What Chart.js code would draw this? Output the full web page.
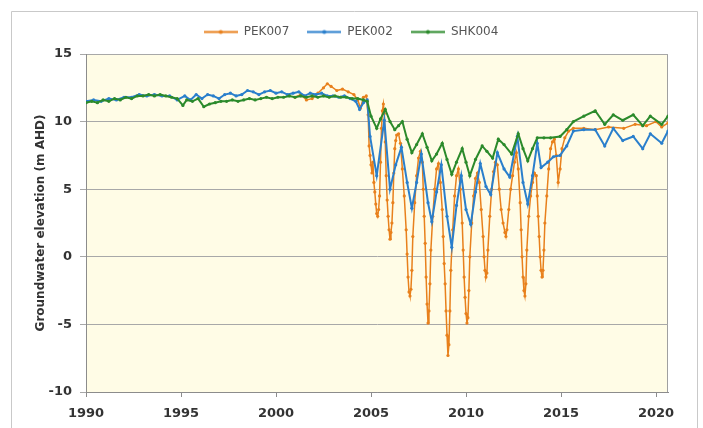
<!DOCTYPE html>
<html>
<head>
<meta charset="utf-8">
<script src="https://cdn.jsdelivr.net/npm/chart.js@4/dist/chart.umd.min.js"></script>
<style>
  html, body { margin: 0; padding: 0; background: #ffffff; }
  canvas { display: block; }
</style>
</head>
<body>
<canvas id="grafico" width="703" height="428"></canvas>
<script>
// nombres de las series y ticks
const nombres = ['PEK007', 'PEK002', 'SHK004'];
const ticksX = [1990, 1995, 2000, 2005, 2010, 2015, 2020];
const ticksY = [-10, -5, 0, 5, 10, 15];

// [año, elevación m AHD]
const pek007 = [
  [2001.0, 11.8], [2001.3, 12.0], [2001.6, 11.6], [2001.9, 11.7], [2002.2, 12.1], [2002.5, 12.5],
  [2002.7, 12.8], [2002.9, 12.6], [2003.2, 12.3], [2003.5, 12.4], [2003.8, 12.2], [2004.1, 12.0],
  [2004.3, 11.6], [2004.45, 11.0], [2004.6, 11.8], [2004.75, 11.9],
  [2004.85, 10.5], [2004.9, 8.2], [2004.95, 7.5], [2005.0, 6.8], [2005.05, 6.2], [2005.1, 7.0],
  [2005.15, 5.5], [2005.2, 4.8], [2005.25, 3.9], [2005.3, 3.2], [2005.35, 3.0], [2005.4, 3.5],
  [2005.45, 4.5], [2005.5, 7.0], [2005.55, 9.5], [2005.6, 10.8], [2005.65, 11.3], [2005.7, 10.6],
  [2005.75, 8.5], [2005.8, 6.0], [2005.85, 4.2], [2005.9, 3.0], [2005.95, 2.0], [2006.0, 1.3],
  [2006.05, 1.8], [2006.1, 2.5], [2006.15, 4.0], [2006.2, 6.2], [2006.25, 8.0], [2006.3, 8.6],
  [2006.35, 9.0], [2006.45, 9.1], [2006.55, 8.4], [2006.65, 6.5], [2006.75, 4.5], [2006.85, 2.0],
  [2006.9, 0.2], [2006.95, -1.5], [2007.0, -2.6], [2007.05, -2.9], [2007.1, -2.4], [2007.15, -1.0],
  [2007.2, 1.5], [2007.3, 4.0], [2007.4, 6.0], [2007.5, 7.3], [2007.6, 7.8], [2007.7, 7.0],
  [2007.75, 5.0], [2007.8, 3.0], [2007.85, 1.0], [2007.9, -1.5], [2007.95, -3.5], [2008.0, -4.9],
  [2008.05, -4.0], [2008.1, -2.0], [2008.15, 0.5], [2008.25, 3.0], [2008.35, 5.0], [2008.45, 6.5],
  [2008.55, 6.9], [2008.65, 5.5], [2008.75, 3.5], [2008.8, 1.5], [2008.85, -0.5], [2008.9, -2.0],
  [2008.95, -4.0], [2009.0, -5.8], [2009.05, -7.3], [2009.1, -6.5], [2009.15, -4.0], [2009.2, -1.0],
  [2009.3, 2.0], [2009.4, 4.5], [2009.5, 6.0], [2009.6, 6.5], [2009.7, 5.0], [2009.8, 2.5],
  [2009.85, 0.5], [2009.9, -1.5], [2009.95, -3.0], [2010.0, -4.2], [2010.05, -4.9], [2010.1, -4.5],
  [2010.15, -2.5], [2010.2, 0.0], [2010.3, 2.5], [2010.4, 4.5], [2010.5, 5.8], [2010.6, 6.2],
  [2010.7, 5.5], [2010.8, 3.5], [2010.9, 1.5], [2010.95, 0.0], [2011.0, -1.0], [2011.05, -1.5],
  [2011.1, -1.2], [2011.15, 0.5], [2011.25, 3.0], [2011.35, 5.0], [2011.45, 6.3], [2011.55, 7.0],
  [2011.65, 6.8], [2011.75, 5.0], [2011.85, 3.5], [2011.95, 2.5], [2012.05, 1.8], [2012.1, 1.5],
  [2012.15, 2.0], [2012.25, 3.5], [2012.35, 5.0], [2012.45, 6.0], [2012.55, 7.0], [2012.65, 7.7],
  [2012.75, 6.5], [2012.85, 4.0], [2012.9, 2.0], [2012.95, 0.0], [2013.0, -1.5], [2013.05, -2.5],
  [2013.1, -2.9], [2013.15, -2.0], [2013.2, 0.5], [2013.3, 3.0], [2013.4, 4.5], [2013.5, 5.5],
  [2013.6, 6.2], [2013.7, 6.0], [2013.75, 4.5], [2013.8, 3.0], [2013.85, 1.5], [2013.9, 0.0],
  [2013.95, -1.0], [2014.0, -1.5], [2014.05, -1.0], [2014.1, 0.5], [2014.15, 2.5], [2014.25, 4.5],
  [2014.35, 6.5], [2014.45, 8.0], [2014.55, 8.5], [2014.65, 8.7], [2014.75, 7.5], [2014.85, 5.5],
  [2014.95, 6.5], [2015.05, 8.0], [2015.2, 8.8], [2015.4, 9.3], [2015.65, 9.5], [2016.2, 9.5],
  [2016.8, 9.4], [2017.5, 9.6], [2018.3, 9.5], [2018.9, 9.8], [2019.5, 9.7], [2020.0, 10.0],
  [2020.3, 9.6], [2020.63, 9.9]
];

const pek002 = [
  [1990.0, 11.5], [1990.4, 11.6], [1990.8, 11.5], [1991.2, 11.7], [1991.6, 11.6], [1992.0, 11.8],
  [1992.4, 11.8], [1992.8, 12.0], [1993.2, 11.9], [1993.6, 12.0], [1994.0, 11.9], [1994.4, 11.9],
  [1994.8, 11.6], [1995.2, 11.9], [1995.5, 11.6], [1995.8, 12.0], [1996.1, 11.7], [1996.4, 12.0],
  [1996.7, 11.9], [1997.0, 11.7], [1997.3, 12.0], [1997.6, 12.1], [1997.9, 11.9], [1998.2, 12.0],
  [1998.5, 12.3], [1998.8, 12.2], [1999.1, 12.0], [1999.4, 12.2], [1999.7, 12.3], [2000.0, 12.1],
  [2000.3, 12.2], [2000.6, 12.0], [2000.9, 12.1], [2001.2, 12.2], [2001.5, 11.9], [2001.8, 12.1],
  [2002.1, 12.0], [2002.4, 12.1], [2002.7, 11.9], [2003.0, 11.9], [2003.3, 11.8], [2003.6, 11.9],
  [2003.9, 11.7], [2004.2, 11.5], [2004.4, 10.9], [2004.6, 11.4], [2004.8, 11.6],
  [2004.95, 8.9], [2005.3, 6.0], [2005.7, 10.1], [2006.0, 5.0], [2006.3, 6.8], [2006.6, 8.1],
  [2006.9, 5.5], [2007.15, 3.6], [2007.4, 5.5], [2007.65, 7.6], [2008.0, 4.0], [2008.2, 2.6],
  [2008.45, 4.8], [2008.7, 6.8], [2009.0, 3.0], [2009.25, 0.7], [2009.5, 3.8], [2009.75, 6.0],
  [2010.0, 3.5], [2010.25, 2.4], [2010.5, 4.8], [2010.75, 6.9], [2011.05, 5.2], [2011.3, 4.6],
  [2011.65, 7.7], [2012.0, 6.5], [2012.3, 5.9], [2012.7, 8.9], [2013.0, 5.5], [2013.25, 3.9],
  [2013.5, 6.0], [2013.75, 8.4], [2013.95, 6.6], [2014.3, 7.0], [2014.6, 7.4], [2014.95, 7.5],
  [2015.3, 8.2], [2015.65, 9.3], [2016.2, 9.4], [2016.8, 9.4], [2017.3, 8.2], [2017.75, 9.5],
  [2018.25, 8.6], [2018.8, 8.9], [2019.3, 8.0], [2019.7, 9.1], [2020.3, 8.4], [2020.63, 9.3]
];

const shk004 = [
  [1990.0, 11.4], [1990.3, 11.5], [1990.6, 11.4], [1990.9, 11.6], [1991.2, 11.5], [1991.5, 11.7],
  [1991.8, 11.6], [1992.1, 11.8], [1992.4, 11.7], [1992.7, 11.9], [1993.0, 11.9], [1993.3, 12.0],
  [1993.6, 11.9], [1993.9, 12.0], [1994.2, 11.9], [1994.5, 11.8], [1994.8, 11.7], [1995.1, 11.2],
  [1995.3, 11.6], [1995.6, 11.5], [1995.9, 11.7], [1996.2, 11.1], [1996.5, 11.3], [1996.8, 11.4],
  [1997.1, 11.5], [1997.4, 11.5], [1997.7, 11.6], [1998.0, 11.5], [1998.3, 11.6], [1998.6, 11.7],
  [1998.9, 11.6], [1999.2, 11.7], [1999.5, 11.8], [1999.8, 11.7], [2000.1, 11.8], [2000.4, 11.8],
  [2000.7, 11.9], [2001.0, 11.8], [2001.3, 11.9], [2001.6, 11.8], [2001.9, 11.9], [2002.2, 11.8],
  [2002.5, 11.9], [2002.8, 11.8], [2003.1, 11.9], [2003.4, 11.8], [2003.7, 11.8], [2004.0, 11.7],
  [2004.3, 11.7], [2004.6, 11.6], [2004.8, 11.5],
  [2005.0, 10.4], [2005.3, 9.5], [2005.5, 10.2], [2005.75, 10.9], [2006.0, 10.0], [2006.25, 9.4],
  [2006.45, 9.7], [2006.65, 10.0], [2006.9, 8.7], [2007.15, 7.7], [2007.4, 8.3], [2007.7, 9.1],
  [2007.95, 8.1], [2008.2, 7.1], [2008.45, 7.6], [2008.75, 8.4], [2009.0, 7.2], [2009.25, 6.1],
  [2009.5, 7.0], [2009.8, 8.0], [2010.0, 7.0], [2010.2, 6.0], [2010.5, 7.2], [2010.85, 8.2],
  [2011.1, 7.8], [2011.4, 7.3], [2011.7, 8.7], [2012.0, 8.3], [2012.4, 7.6], [2012.75, 9.1],
  [2013.0, 8.0], [2013.25, 7.1], [2013.5, 8.0], [2013.75, 8.8], [2014.1, 8.8], [2014.45, 8.8],
  [2014.95, 8.9], [2015.3, 9.4], [2015.65, 10.0], [2016.2, 10.4], [2016.8, 10.8], [2017.3, 9.8],
  [2017.75, 10.5], [2018.25, 10.1], [2018.8, 10.5], [2019.3, 9.7], [2019.7, 10.4], [2020.3, 9.8],
  [2020.63, 10.4]
];

const colores = { PEK007: '#e8801c', PEK002: '#2a7fcc', SHK004: '#2b8a2b' };
const fuente = 'DejaVu Sans, Verdana, sans-serif';

function iconoLeyenda(color) {
  const c = document.createElement('canvas');
  c.width = 34;
  c.height = 7;
  const g = c.getContext('2d');
  g.strokeStyle = color;
  g.lineWidth = 2;
  g.beginPath();
  g.moveTo(0, 3.5);
  g.lineTo(34, 3.5);
  g.stroke();
  g.fillStyle = color;
  g.beginPath();
  g.arc(17, 3.5, 2, 0, Math.PI * 2);
  g.fill();
  return c;
}

function serie(nombre, datos, ancho) {
  return {
    label: nombre,
    data: datos.map(p => ({ x: p[0], y: p[1] })),
    borderColor: colores[nombre],
    backgroundColor: colores[nombre],
    borderWidth: ancho,
    pointRadius: 1.6,
    pointBorderWidth: 0,
    pointHoverRadius: 2,
    tension: 0
  };
}

// fondo crema del área y marco gris exterior
const fondo = {
  id: 'fondo',
  beforeDraw(chart) {
    const { ctx, chartArea: a } = chart;
    ctx.save();
    ctx.fillStyle = '#ffffff';
    ctx.fillRect(0, 0, chart.width, chart.height);
    ctx.strokeStyle = '#c9c9c9';
    ctx.lineWidth = 1;
    ctx.beginPath();
    ctx.moveTo(11.5, 428);
    ctx.lineTo(11.5, 11.5);
    ctx.lineTo(697.5, 11.5);
    ctx.lineTo(697.5, 428);
    ctx.stroke();
    ctx.fillStyle = '#fffce6';
    ctx.fillRect(a.left, a.top, a.right - a.left, a.bottom - a.top);
    ctx.strokeStyle = '#a0a0a0';
    ctx.strokeRect(a.left + 0.5, a.top + 0.5, a.right - a.left - 1, a.bottom - a.top);
    ctx.restore();
  }
};

const ctx = document.getElementById('grafico').getContext('2d');
new Chart(ctx, {
  type: 'line',
  data: {
    // el primero se dibuja encima; la leyenda va invertida
    datasets: [
      serie('SHK004', shk004, 2),
      serie('PEK002', pek002, 2),
      serie('PEK007', pek007, 1.5)
    ]
  },
  plugins: [fondo],
  options: {
    responsive: false,
    animation: false,
    devicePixelRatio: 1,
    layout: { padding: { left: 34, right: 35, top: 8, bottom: 0 } },
    plugins: {
      tooltip: { enabled: false },
      legend: {
        position: 'top',
        reverse: true,
        labels: {
          usePointStyle: true,
          pointStyleWidth: 34,
          padding: 18,
          color: '#555555',
          font: { family: fuente, size: 12 },
          generateLabels(chart) {
            const items = Chart.defaults.plugins.legend.labels.generateLabels(chart);
            items.forEach(it => { it.pointStyle = iconoLeyenda(colores[it.text]); });
            return items;
          }
        }
      }
    },
    scales: {
      x: {
        type: 'linear',
        min: ticksX[0],
        max: 2020.63,
        afterFit(scale) { scale.height = 36; },
        afterBuildTicks(scale) { scale.ticks = ticksX.map(v => ({ value: v })); },
        ticks: {
          includeBounds: false,
          autoSkip: false,
          maxRotation: 0,
          padding: 9,
          color: '#333333',
          font: { family: fuente, size: 13, weight: 'bold' },
          callback: v => String(v)
        },
        grid: { drawOnChartArea: false, drawTicks: true, tickLength: 5, color: '#8c8c8c' },
        border: { color: '#8c8c8c' }
      },
      // eje vacío: solo separa la leyenda del área
      separador: {
        type: 'linear',
        position: 'top',
        display: true,
        afterFit(scale) { scale.height = 6; },
        ticks: { display: false },
        grid: { display: false },
        border: { display: false }
      },
      y: {
        min: ticksY[0],
        max: ticksY[ticksY.length - 1],
        afterFit(scale) { scale.width = 52; },
        afterBuildTicks(scale) { scale.ticks = ticksY.map(v => ({ value: v })); },
        ticks: {
          padding: 8,
          color: '#333333',
          font: { family: fuente, size: 13, weight: 'bold', lineHeight: 1 }
        },
        title: {
          display: true,
          text: 'Groundwater elevation (m AHD)',
          color: '#333333',
          padding: { top: 0, bottom: 0 },
          font: { family: fuente, size: 12, weight: 'bold' }
        },
        grid: { color: '#a8a8a8', tickLength: 6, lineWidth: 1 },
        border: { color: '#8c8c8c' }
      }
    }
  }
});
</script>
</body>
</html>
